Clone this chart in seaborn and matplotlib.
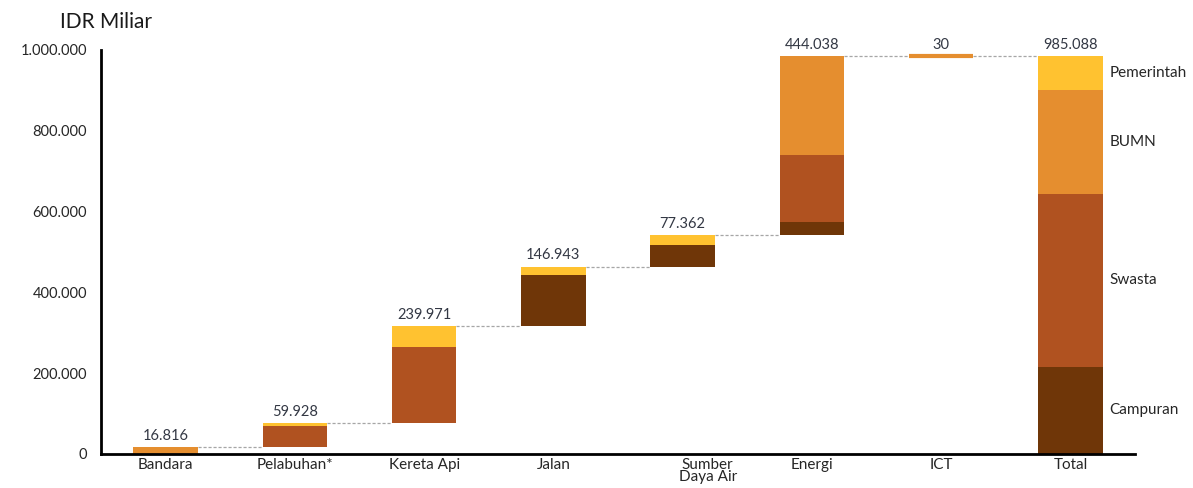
import numpy as np
import matplotlib
matplotlib.use('Agg')
import matplotlib.pyplot as plt
import matplotlib.transforms as mtransforms
from matplotlib.ticker import FuncFormatter
import seaborn as sns

# data (IDR miliar)
categories = ["Bandara", "Pelabuhan*", "Kereta Api", "Jalan", "Sumber\nDaya Air", "Energi", "ICT", "Total"]
totals = [16816, 59928, 239971, 146943, 77362, 444038, 30, 985088]
campuran = [0, 0, 0, 125343, 53362, 32000, 0, 216000]
swasta = [0, 51928, 187971, 0, 0, 168000, 0, 428000]
bumn = [16816, 0, 0, 0, 0, 244038, 30, 257000]
pemerintah = [0, 8000, 52000, 21600, 24000, 0, 0, 84088]
layer_names = ["Campuran", "Swasta", "BUMN", "Pemerintah"]
yticks = [0, 200000, 400000, 600000, 800000, 1000000]

colors = {"Campuran": "#6F3608", "Swasta": "#B05220", "BUMN": "#E58E2F", "Pemerintah": "#FFC230"}
layers = {"Campuran": campuran, "Swasta": swasta, "BUMN": bumn, "Pemerintah": pemerintah}

sns.set_theme(style="white")
plt.rcParams['font.family'] = ['Lato', 'DejaVu Sans']

# starting level of each waterfall step (total starts at zero)
starts = list(np.concatenate([[0], np.cumsum(totals[:-2])])) + [0]

fig = plt.figure(figsize=(11.93, 4.88), dpi=100)
ax = fig.add_axes([0.0847, 0.0697, 0.8667, 0.8281])

bottoms = np.array(starts, dtype=float)
bar_w = 0.5
for name in layer_names:
    vals = np.array(layers[name], dtype=float)
    n_before = len(ax.patches)
    sns.barplot(x=categories, y=vals, color=colors[name], width=bar_w,
                saturation=1, ax=ax, order=categories, linewidth=0)
    new = ax.patches[n_before:]
    for p, b in zip(new, bottoms):
        p.set_y(b)
    bottoms = bottoms + vals

# the ICT step is tiny, draw it as a visible sliver
ict = categories.index("ICT")
for p in ax.patches:
    if abs(p.get_x() + p.get_width() / 2 - ict) < 1e-6 and p.get_height() > 0:
        p.set_edgecolor(colors["BUMN"])
        p.set_linewidth(3)

# dashed connectors
tops = [s + t for s, t in zip(starts, totals)]
for i in range(len(categories) - 1):
    ax.plot([i + bar_w / 2, i + 1 - bar_w / 2], [tops[i], tops[i]],
            ls=(0, (2.5, 1.5)), color="#A6A6A6", lw=0.9, zorder=1)

# value labels
fmt = lambda v: f"{int(v):,}".replace(",", ".")
for i, (t, v) in enumerate(zip(tops, totals)):
    ax.annotate(fmt(v), (i, t), xytext=(0, 3), textcoords="offset points",
                ha="center", va="bottom", fontsize=10.5, color="#333844")

# side labels for total bar
lvl = 0
for name in layer_names:
    v = layers[name][-1]
    ax.text(7.3, lvl + v / 2, name, ha="left", va="center", fontsize=11, color="#262626")
    lvl += v

ax.set_xlim(-0.5, 7.5)
ax.set_ylim(0, 1000000)
ax.set_yticks(yticks)
ax.yaxis.set_major_formatter(FuncFormatter(lambda v, _: fmt(v)))
ax.set_xlabel("")
ax.set_ylabel("")
sns.despine(ax=ax, top=True, right=True)
for s in ["left", "bottom"]:
    ax.spines[s].set_color("black")
    ax.spines[s].set_linewidth(2)
ax.tick_params(axis="y", which="major", direction="out", length=7, width=2,
               color="black", labelsize=10.5, labelcolor="#262626", pad=3)
ax.tick_params(axis="x", length=0, labelsize=11, labelcolor="#262626", pad=3)
for lab in ax.get_xticklabels():
    lab.set_linespacing(0.8)
    if lab.get_text().startswith("Sumber"):
        lab.set_transform(lab.get_transform() +
                          mtransforms.ScaledTranslation(0.25, 0, fig.dpi_scale_trans))

fig.text(0.05, 0.955, "IDR Miliar", fontsize=15, color="#1a1a1a", ha="left", va="center")

fig.savefig("out.png", dpi=100)
